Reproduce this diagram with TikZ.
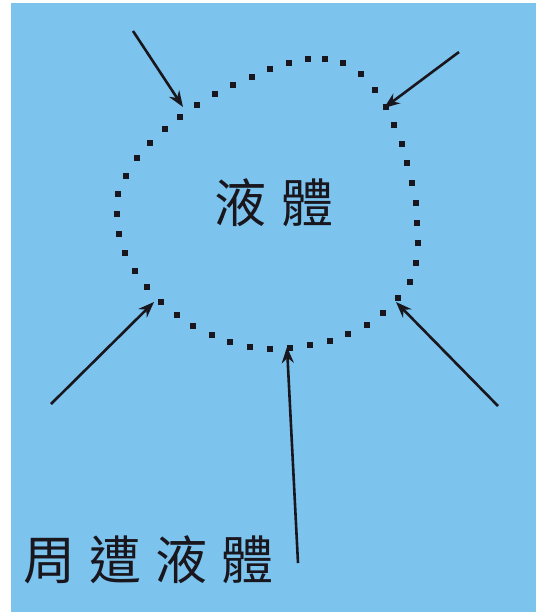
\documentclass[tikz,border=0pt]{standalone}
\usepackage{fontspec}
\newfontfamily\cjk{Noto Sans CJK TC}
\usetikzlibrary{arrows.meta}
\definecolor{bgblue}{RGB}{124,196,238}
\definecolor{ink}{RGB}{25,22,30}
\begin{document}
\begin{tikzpicture}[x=1pt,y=-1pt,
  arr/.style={draw=ink,line width=2.6pt,-{Stealth[length=16pt,width=12pt]}},
  lbl/.style={inner sep=0pt,text=ink,font=\cjk\fontsize{52}{52}\selectfont},
  dotmark/.style={fill=ink}]
\useasboundingbox (0,0) rectangle (536,614);
\fill[white] (0,0) rectangle (536,614);
\fill[bgblue] (11,3) rectangle (536,612);
% dotted boundary
\foreach \px/\py in {308/59,325/59,343/63,361/74,375/90,386/107,394/125,402/144,407/163,412/183,416/203,417/223,418/243,416/263,410/282,398/298,383/313,367/325,348/334,330/341,310/345,290/348,270/349,250/347,230/342,212/335,193/326,177/315,161/302,147/287,135/271,125/253,119/234,117/214,118/194,126/176,137/158,150/143,165/129,180/117,197/105,215/94,233/85,252/77,270/69,289/63}
  \fill[dotmark] (\px-2.6,\py-2.6) rectangle (\px+2.6,\py+2.6);
% labels
\node[lbl] (inner) at (274,203) {液\hspace{15pt}體};
\node[lbl,anchor=west] (outer) at (23,560) {周\hspace{14pt}遭\hspace{14pt}液\hspace{14pt}體};
% arrow endpoints
\coordinate (s1) at (133,31);  \coordinate (t1) at (183,107);
\coordinate (s2) at (459,52);  \coordinate (t2) at (384,108);
\coordinate (s3) at (51,404);  \coordinate (t3) at (154,302);
\coordinate (s4) at (498,406); \coordinate (t4) at (396,302);
\coordinate (s5) at (298,563); \coordinate (t5) at (287,347);
\draw[arr] (s1) -- (t1);
\draw[arr] (s2) -- (t2);
\draw[arr] (s3) -- (t3);
\draw[arr] (s4) -- (t4);
\draw[arr] (s5) -- (t5);
\end{tikzpicture}
\end{document}
